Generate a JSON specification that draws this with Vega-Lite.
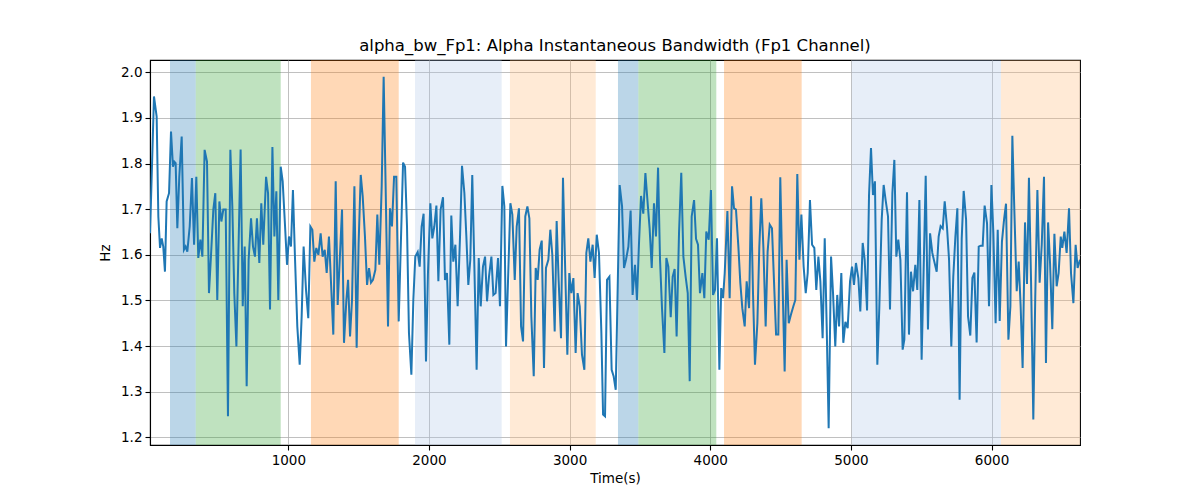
{
"$schema": "https://vega.github.io/schema/vega-lite/v6.json",
"width": 930, "height": 385,
"autosize": "none",
"padding": {"left": 150, "top": 60, "right": 120, "bottom": 55},
"background": "white",
"config": {
 "view": {"stroke": "#000", "strokeWidth": 1.1},
 "font": "DejaVu Sans",
 "axis": {"zindex": 1, "domainColor": "#000", "domainWidth": 1.1, "tickColor": "#000", "tickWidth": 1.1, "tickSize": 5, "labelColor": "#000", "labelFontSize": 13.5, "labelFont": "DejaVu Sans", "labelPadding": 3, "titleColor": "#000", "titleFontSize": 13.5, "titleFont": "DejaVu Sans", "titleFontWeight": "normal", "gridColor": "#b0b0b0", "gridWidth": 0.8}
},
"title": {"text": "alpha_bw_Fp1: Alpha Instantaneous Bandwidth (Fp1 Channel)", "font": "DejaVu Sans", "fontSize": 16.5, "fontWeight": "normal", "color": "#000", "anchor": "middle", "offset": 6},
"datasets": {
 "spans": [
  {"start": 159, "end": 342, "cat": "a"},
  {"start": 342, "end": 946, "cat": "b"},
  {"start": 1161, "end": 1785, "cat": "c"},
  {"start": 1901, "end": 2517, "cat": "d"},
  {"start": 2576, "end": 3186, "cat": "e"},
  {"start": 3344, "end": 3489, "cat": "a"},
  {"start": 3489, "end": 4043, "cat": "b"},
  {"start": 4098, "end": 4650, "cat": "c"},
  {"start": 5006, "end": 6067, "cat": "d"},
  {"start": 6067, "end": 6629, "cat": "e"}
 ],
 "series": [
{"t":17,"v":1.647},{"t":45,"v":1.947},{"t":64,"v":1.903},{"t":76,"v":1.684},{"t":88,"v":1.615},{"t":100,"v":1.636},{"t":111,"v":1.618},{"t":123,"v":1.563},{"t":135,"v":1.717},{"t":152,"v":1.735},{"t":166,"v":1.870},{"t":180,"v":1.793},{"t":190,"v":1.804},{"t":199,"v":1.801},{"t":211,"v":1.658},{"t":225,"v":1.771},{"t":242,"v":1.859},{"t":258,"v":1.611},{"t":270,"v":1.618},{"t":282,"v":1.607},{"t":299,"v":1.662},{"t":315,"v":1.768},{"t":330,"v":1.622},{"t":346,"v":1.771},{"t":360,"v":1.593},{"t":375,"v":1.633},{"t":389,"v":1.596},{"t":405,"v":1.830},{"t":422,"v":1.804},{"t":436,"v":1.516},{"t":450,"v":1.596},{"t":467,"v":1.699},{"t":481,"v":1.735},{"t":495,"v":1.501},{"t":510,"v":1.717},{"t":524,"v":1.673},{"t":538,"v":1.699},{"t":555,"v":1.699},{"t":571,"v":1.246},{"t":588,"v":1.830},{"t":602,"v":1.706},{"t":616,"v":1.516},{"t":631,"v":1.399},{"t":661,"v":1.831},{"t":676,"v":1.487},{"t":690,"v":1.618},{"t":704,"v":1.312},{"t":718,"v":1.589},{"t":735,"v":1.680},{"t":749,"v":1.618},{"t":763,"v":1.596},{"t":777,"v":1.680},{"t":794,"v":1.582},{"t":808,"v":1.713},{"t":822,"v":1.622},{"t":842,"v":1.771},{"t":856,"v":1.735},{"t":870,"v":1.480},{"t":887,"v":1.836},{"t":901,"v":1.640},{"t":915,"v":1.739},{"t":929,"v":1.501},{"t":946,"v":1.793},{"t":960,"v":1.761},{"t":977,"v":1.662},{"t":991,"v":1.578},{"t":1005,"v":1.640},{"t":1019,"v":1.618},{"t":1033,"v":1.742},{"t":1048,"v":1.589},{"t":1064,"v":1.443},{"t":1081,"v":1.359},{"t":1095,"v":1.465},{"t":1109,"v":1.618},{"t":1126,"v":1.523},{"t":1142,"v":1.461},{"t":1157,"v":1.662},{"t":1171,"v":1.655},{"t":1185,"v":1.585},{"t":1199,"v":1.615},{"t":1214,"v":1.600},{"t":1230,"v":1.647},{"t":1244,"v":1.596},{"t":1259,"v":1.611},{"t":1273,"v":1.560},{"t":1289,"v":1.640},{"t":1306,"v":1.523},{"t":1320,"v":1.425},{"t":1337,"v":1.761},{"t":1351,"v":1.490},{"t":1368,"v":1.604},{"t":1382,"v":1.699},{"t":1396,"v":1.407},{"t":1413,"v":1.501},{"t":1425,"v":1.545},{"t":1439,"v":1.421},{"t":1453,"v":1.501},{"t":1470,"v":1.750},{"t":1486,"v":1.396},{"t":1500,"v":1.626},{"t":1515,"v":1.775},{"t":1529,"v":1.728},{"t":1545,"v":1.640},{"t":1560,"v":1.534},{"t":1574,"v":1.571},{"t":1588,"v":1.539},{"t":1602,"v":1.545},{"t":1619,"v":1.567},{"t":1633,"v":1.688},{"t":1647,"v":1.578},{"t":1664,"v":1.750},{"t":1678,"v":1.990},{"t":1692,"v":1.750},{"t":1709,"v":1.443},{"t":1723,"v":1.702},{"t":1737,"v":1.662},{"t":1752,"v":1.771},{"t":1768,"v":1.771},{"t":1785,"v":1.454},{"t":1816,"v":1.802},{"t":1830,"v":1.793},{"t":1844,"v":1.662},{"t":1858,"v":1.428},{"t":1875,"v":1.337},{"t":1889,"v":1.501},{"t":1903,"v":1.596},{"t":1920,"v":1.606},{"t":1934,"v":1.574},{"t":1948,"v":1.662},{"t":1962,"v":1.690},{"t":1979,"v":1.366},{"t":1993,"v":1.560},{"t":2010,"v":1.713},{"t":2024,"v":1.636},{"t":2038,"v":1.662},{"t":2053,"v":1.708},{"t":2067,"v":1.542},{"t":2083,"v":1.699},{"t":2100,"v":1.726},{"t":2114,"v":1.545},{"t":2128,"v":1.560},{"t":2145,"v":1.403},{"t":2159,"v":1.686},{"t":2173,"v":1.585},{"t":2188,"v":1.622},{"t":2204,"v":1.487},{"t":2221,"v":1.640},{"t":2235,"v":1.795},{"t":2252,"v":1.735},{"t":2266,"v":1.640},{"t":2280,"v":1.534},{"t":2294,"v":1.589},{"t":2308,"v":1.775},{"t":2323,"v":1.574},{"t":2339,"v":1.348},{"t":2354,"v":1.593},{"t":2368,"v":1.487},{"t":2384,"v":1.574},{"t":2399,"v":1.596},{"t":2413,"v":1.498},{"t":2427,"v":1.552},{"t":2444,"v":1.596},{"t":2458,"v":1.512},{"t":2474,"v":1.516},{"t":2491,"v":1.593},{"t":2505,"v":1.487},{"t":2522,"v":1.751},{"t":2536,"v":1.706},{"t":2548,"v":1.399},{"t":2579,"v":1.713},{"t":2593,"v":1.688},{"t":2610,"v":1.545},{"t":2624,"v":1.662},{"t":2640,"v":1.702},{"t":2655,"v":1.443},{"t":2669,"v":1.410},{"t":2685,"v":1.684},{"t":2700,"v":1.706},{"t":2714,"v":1.680},{"t":2728,"v":1.465},{"t":2745,"v":1.334},{"t":2759,"v":1.571},{"t":2773,"v":1.545},{"t":2787,"v":1.611},{"t":2802,"v":1.631},{"t":2818,"v":1.352},{"t":2832,"v":1.571},{"t":2849,"v":1.589},{"t":2863,"v":1.655},{"t":2877,"v":1.600},{"t":2894,"v":1.432},{"t":2908,"v":1.674},{"t":2922,"v":1.545},{"t":2939,"v":1.417},{"t":2953,"v":1.769},{"t":2967,"v":1.589},{"t":2984,"v":1.381},{"t":2998,"v":1.560},{"t":3012,"v":1.516},{"t":3027,"v":1.549},{"t":3043,"v":1.385},{"t":3057,"v":1.516},{"t":3072,"v":1.487},{"t":3088,"v":1.381},{"t":3105,"v":1.348},{"t":3119,"v":1.604},{"t":3133,"v":1.636},{"t":3148,"v":1.585},{"t":3164,"v":1.622},{"t":3178,"v":1.549},{"t":3193,"v":1.644},{"t":3209,"v":1.604},{"t":3226,"v":1.428},{"t":3238,"v":1.250},{"t":3252,"v":1.246},{"t":3266,"v":1.545},{"t":3283,"v":1.552},{"t":3299,"v":1.348},{"t":3313,"v":1.334},{"t":3328,"v":1.304},{"t":3356,"v":1.753},{"t":3373,"v":1.706},{"t":3387,"v":1.571},{"t":3401,"v":1.589},{"t":3418,"v":1.618},{"t":3434,"v":1.697},{"t":3448,"v":1.512},{"t":3465,"v":1.578},{"t":3479,"v":1.501},{"t":3493,"v":1.622},{"t":3508,"v":1.729},{"t":3524,"v":1.690},{"t":3539,"v":1.779},{"t":3555,"v":1.713},{"t":3569,"v":1.658},{"t":3584,"v":1.571},{"t":3600,"v":1.713},{"t":3614,"v":1.640},{"t":3629,"v":1.791},{"t":3643,"v":1.589},{"t":3657,"v":1.483},{"t":3674,"v":1.385},{"t":3688,"v":1.593},{"t":3702,"v":1.574},{"t":3719,"v":1.463},{"t":3733,"v":1.552},{"t":3747,"v":1.569},{"t":3761,"v":1.421},{"t":3778,"v":1.647},{"t":3794,"v":1.780},{"t":3809,"v":1.596},{"t":3825,"v":1.552},{"t":3840,"v":1.516},{"t":3854,"v":1.323},{"t":3868,"v":1.684},{"t":3885,"v":1.720},{"t":3899,"v":1.635},{"t":3913,"v":1.622},{"t":3927,"v":1.516},{"t":3944,"v":1.560},{"t":3958,"v":1.505},{"t":3972,"v":1.651},{"t":3989,"v":1.633},{"t":4005,"v":1.742},{"t":4020,"v":1.512},{"t":4034,"v":1.523},{"t":4048,"v":1.636},{"t":4065,"v":1.348},{"t":4078,"v":1.527},{"t":4091,"v":1.505},{"t":4103,"v":1.560},{"t":4122,"v":1.696},{"t":4138,"v":1.505},{"t":4155,"v":1.750},{"t":4169,"v":1.702},{"t":4183,"v":1.699},{"t":4200,"v":1.618},{"t":4214,"v":1.538},{"t":4228,"v":1.483},{"t":4245,"v":1.443},{"t":4259,"v":1.542},{"t":4276,"v":1.483},{"t":4290,"v":1.728},{"t":4304,"v":1.516},{"t":4318,"v":1.359},{"t":4335,"v":1.450},{"t":4349,"v":1.618},{"t":4363,"v":1.724},{"t":4378,"v":1.615},{"t":4394,"v":1.443},{"t":4408,"v":1.607},{"t":4423,"v":1.666},{"t":4439,"v":1.658},{"t":4453,"v":1.545},{"t":4468,"v":1.425},{"t":4484,"v":1.425},{"t":4498,"v":1.770},{"t":4513,"v":1.552},{"t":4529,"v":1.344},{"t":4543,"v":1.589},{"t":4558,"v":1.450},{"t":4574,"v":1.469},{"t":4591,"v":1.487},{"t":4605,"v":1.501},{"t":4619,"v":1.777},{"t":4634,"v":1.589},{"t":4648,"v":1.688},{"t":4664,"v":1.574},{"t":4679,"v":1.516},{"t":4693,"v":1.560},{"t":4709,"v":1.720},{"t":4724,"v":1.622},{"t":4740,"v":1.615},{"t":4754,"v":1.523},{"t":4769,"v":1.596},{"t":4783,"v":1.542},{"t":4799,"v":1.417},{"t":4814,"v":1.636},{"t":4828,"v":1.443},{"t":4842,"v":1.220},{"t":4859,"v":1.596},{"t":4873,"v":1.516},{"t":4889,"v":1.399},{"t":4903,"v":1.512},{"t":4916,"v":1.443},{"t":4932,"v":1.560},{"t":4946,"v":1.407},{"t":4961,"v":1.453},{"t":4977,"v":1.439},{"t":4994,"v":1.542},{"t":5008,"v":1.574},{"t":5022,"v":1.534},{"t":5036,"v":1.582},{"t":5053,"v":1.549},{"t":5067,"v":1.476},{"t":5084,"v":1.626},{"t":5098,"v":1.589},{"t":5115,"v":1.478},{"t":5129,"v":1.731},{"t":5143,"v":1.834},{"t":5157,"v":1.731},{"t":5171,"v":1.761},{"t":5188,"v":1.359},{"t":5202,"v":1.483},{"t":5219,"v":1.677},{"t":5233,"v":1.753},{"t":5247,"v":1.720},{"t":5264,"v":1.684},{"t":5278,"v":1.480},{"t":5295,"v":1.735},{"t":5309,"v":1.808},{"t":5323,"v":1.596},{"t":5337,"v":1.633},{"t":5352,"v":1.589},{"t":5368,"v":1.392},{"t":5380,"v":1.414},{"t":5399,"v":1.737},{"t":5413,"v":1.425},{"t":5427,"v":1.563},{"t":5442,"v":1.520},{"t":5458,"v":1.578},{"t":5472,"v":1.523},{"t":5487,"v":1.720},{"t":5503,"v":1.370},{"t":5532,"v":1.773},{"t":5548,"v":1.436},{"t":5563,"v":1.647},{"t":5579,"v":1.604},{"t":5593,"v":1.585},{"t":5610,"v":1.563},{"t":5624,"v":1.640},{"t":5638,"v":1.663},{"t":5653,"v":1.658},{"t":5667,"v":1.717},{"t":5683,"v":1.662},{"t":5698,"v":1.589},{"t":5714,"v":1.399},{"t":5728,"v":1.552},{"t":5743,"v":1.640},{"t":5757,"v":1.702},{"t":5773,"v":1.282},{"t":5788,"v":1.636},{"t":5802,"v":1.740},{"t":5819,"v":1.677},{"t":5833,"v":1.465},{"t":5849,"v":1.423},{"t":5864,"v":1.549},{"t":5878,"v":1.561},{"t":5894,"v":1.408},{"t":5909,"v":1.618},{"t":5923,"v":1.620},{"t":5937,"v":1.620},{"t":5951,"v":1.708},{"t":5968,"v":1.669},{"t":5982,"v":1.487},{"t":5999,"v":1.753},{"t":6013,"v":1.647},{"t":6029,"v":1.450},{"t":6044,"v":1.655},{"t":6058,"v":1.455},{"t":6074,"v":1.629},{"t":6089,"v":1.677},{"t":6103,"v":1.712},{"t":6120,"v":1.414},{"t":6134,"v":1.487},{"t":6148,"v":1.861},{"t":6162,"v":1.699},{"t":6179,"v":1.520},{"t":6193,"v":1.585},{"t":6207,"v":1.487},{"t":6221,"v":1.352},{"t":6238,"v":1.671},{"t":6252,"v":1.536},{"t":6266,"v":1.769},{"t":6281,"v":1.542},{"t":6297,"v":1.239},{"t":6311,"v":1.509},{"t":6326,"v":1.742},{"t":6342,"v":1.539},{"t":6357,"v":1.622},{"t":6373,"v":1.771},{"t":6387,"v":1.363},{"t":6402,"v":1.671},{"t":6416,"v":1.582},{"t":6432,"v":1.437},{"t":6447,"v":1.646},{"t":6463,"v":1.531},{"t":6477,"v":1.560},{"t":6492,"v":1.640},{"t":6503,"v":1.615},{"t":6518,"v":1.651},{"t":6534,"v":1.604},{"t":6551,"v":1.702},{"t":6565,"v":1.560},{"t":6582,"v":1.494},{"t":6598,"v":1.622},{"t":6612,"v":1.571},{"t":6629,"v":1.589}
 ]
},
"layer": [
 {
  "data": {"name": "spans"},
  "mark": {"type": "rect", "opacity": 0.3, "clip": true},
  "encoding": {
   "x": {"field": "start", "type": "quantitative", "scale": {"domain": [16.7, 6629], "nice": false, "zero": false},
         "axis": {"title": "Time(s)", "values": [1000, 2000, 3000, 4000, 5000, 6000], "format": "d", "titlePadding": 5}},
   "x2": {"field": "end"},
   "color": {"field": "cat", "type": "nominal", "scale": {"domain": ["a", "b", "c", "d", "e"], "range": ["#1f77b4", "#2ca02c", "#ff7f0e", "#aec7e8", "#ffbb78"]}, "legend": null}
  }
 },
 {
  "data": {"name": "series"},
  "mark": {"type": "line", "color": "#1f77b4", "strokeWidth": 2, "clip": true},
  "encoding": {
   "x": {"field": "t", "type": "quantitative"},
   "y": {"field": "v", "type": "quantitative", "scale": {"domain": [1.183, 2.027], "nice": false, "zero": false},
         "axis": {"title": "Hz", "values": [1.2, 1.3, 1.4, 1.5, 1.6, 1.7, 1.8, 1.9, 2.0], "format": ".1f", "titlePadding": 8}}
  }
 }
]
}
